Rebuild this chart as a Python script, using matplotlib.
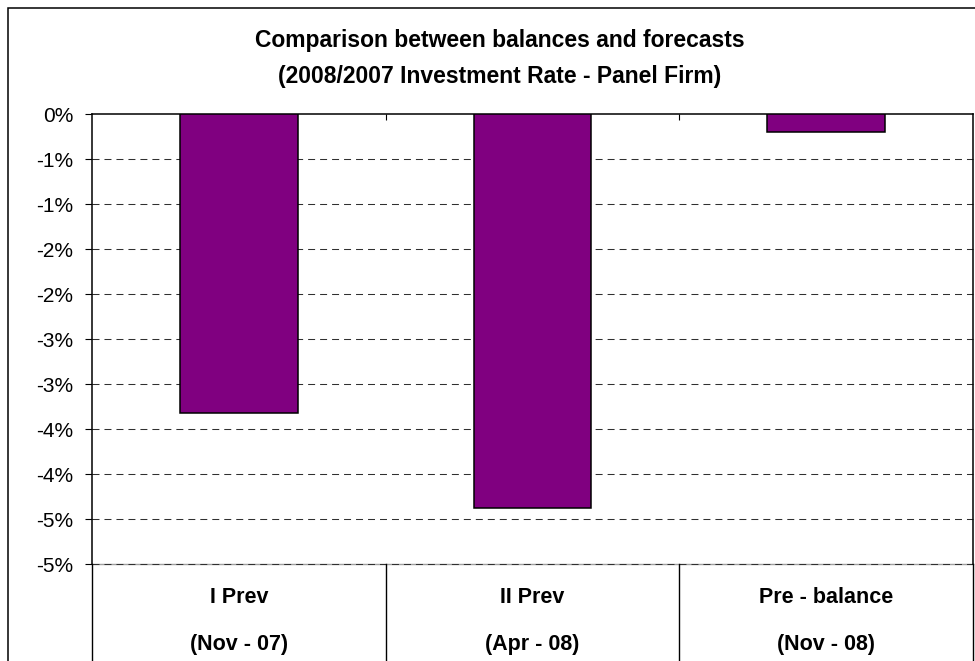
import matplotlib
matplotlib.use('Agg')
import matplotlib.pyplot as plt
from matplotlib.patches import Rectangle
import matplotlib.transforms as mtransforms

categories = ["I Prev", "II Prev", "Pre - balance"]
periods = ["(Nov - 07)", "(Apr - 08)", "(Nov - 08)"]
values = [-3.32, -4.38, -0.20]
yticks = [0, -0.5, -1.0, -1.5, -2.0, -2.5, -3.0, -3.5, -4.0, -4.5, -5.0]
ytick_labels = ["0%", "-1%", "-1%", "-2%", "-2%", "-3%", "-3%", "-4%", "-4%", "-5%", "-5%"]
title_lines = ["Comparison between balances and forecasts",
               "(2008/2007 Investment Rate - Panel Firm)"]

plt.rcParams['font.family'] = ['Liberation Sans', 'DejaVu Sans']

W, H = 975, 661
fig = plt.figure(figsize=(W / 100, H / 100), dpi=100)
ax = fig.add_axes([92 / W, 1 - 564.3 / H, (973 - 92) / W, 450 / H])

x = list(range(len(categories)))
ax.bar(x, values, width=0.4, color='#800080', edgecolor='black', linewidth=1.1, zorder=3)
ax.set_xlim(-0.5, len(categories) - 0.5)
ax.set_ylim(yticks[-1], yticks[0])
ax.set_yticks(yticks)
ax.set_yticklabels(ytick_labels)
ax.tick_params(axis='y', direction='out', length=5, width=0.8, pad=8.5, labelsize=15)

ax.xaxis.set_ticks_position('top')
ax.set_xticks([i + 0.5 for i in x[:-1]])
ax.tick_params(axis='x', direction='in', length=4.3, width=0.8,
               labeltop=False, labelbottom=False)

# gridlines
ax.axhline(yticks[-1], color='#a0a0a0', lw=1.0, zorder=1, clip_on=False)
for t in yticks[1:]:
    ax.axhline(t, color='#303030', lw=0.75, dashes=(6.7, 4.8), zorder=2, clip_on=False)

for side in ['top', 'left', 'right']:
    ax.spines[side].set_linewidth(1.1)
    ax.spines[side].set_color('black')
ax.spines['bottom'].set_visible(False)

# category table lines and labels below the plot
trans = mtransforms.blended_transform_factory(ax.transData, ax.transAxes)
for b in [i - 0.5 for i in x] + [x[-1] + 0.5]:
    ax.plot([b, b], [0, -0.3], transform=trans, clip_on=False, color='black', lw=1.0)
for i in x:
    ax.text(i, -0.0727, categories[i], transform=trans, ha='center', va='center',
            fontweight='bold', fontsize=15.5)
    ax.text(i, -0.1793, periods[i], transform=trans, ha='center', va='center',
            fontweight='bold', fontsize=15.5)

# title
fig.text(500 / W, 1 - 40 / H, title_lines[0], ha='center', va='center',
         fontweight='bold', fontsize=16.5)
fig.text(500 / W, 1 - 77 / H, title_lines[1], ha='center', va='center',
         fontweight='bold', fontsize=16.5)

# outer chart border
fig.add_artist(Rectangle((8 / W, -0.1), 1.2, 1 - 8 / H + 0.1, transform=fig.transFigure,
                         fill=False, lw=1.1, edgecolor='black'))

fig.savefig('out.png', dpi=100)
